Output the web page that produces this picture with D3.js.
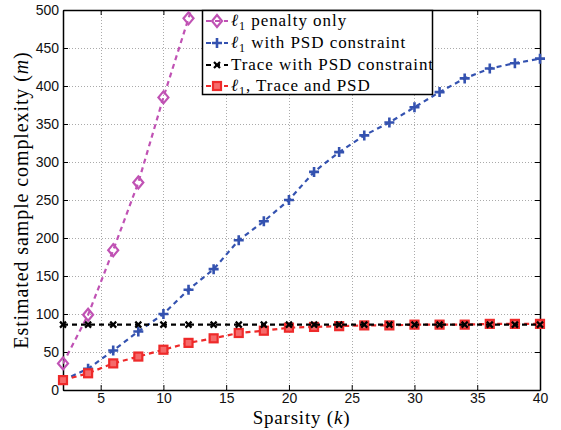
<!DOCTYPE html>
<html>
<head>
<meta charset="utf-8">
<script src="https://cdn.jsdelivr.net/npm/d3@7"></script>
<style>
  body { margin: 0; background: #fff; }
  .tick text { font-family: "Liberation Sans", Arial, sans-serif; font-size: 14px; fill: #111; }
</style>
</head>
<body>
<div id="chart"></div>
<script>
// sparsity k
const kValues = [2, 4, 6, 8, 10, 12, 14, 16, 18, 20, 22, 24, 26, 28, 30, 32, 34, 36, 38, 40]
// estimated m for each method
const l1Only = [35, 99, 184, 273, 385, 489, 600]
const l1Psd = [13, 28, 52, 77, 100, 132, 159, 197, 222, 250, 287, 313, 335, 352, 372, 392, 410, 423, 430, 436]
const tracePsd = [86, 86, 86, 86, 86, 86, 86, 86, 86, 86, 86, 86, 86, 86, 86, 86, 86, 86, 86, 86]
const l1TracePsd = [13, 22, 35, 44, 53, 62, 68, 75, 78, 82, 83, 84, 85, 85, 86, 86, 86, 87, 87, 87]
const xTicks = [5, 10, 15, 20, 25, 30, 35, 40]
const yTicks = [0, 50, 100, 150, 200, 250, 300, 350, 400, 450, 500]

const width = 561, height = 430
const margin = {left: 63, right: 21, top: 10, bottom: 40}

const svg = d3.select('#chart').append('svg')
    .attr('width', width)
    .attr('height', height)

const x = d3.scaleLinear().domain([2, 40]).range([margin.left, width - margin.right])
const y = d3.scaleLinear().domain([0, 500]).range([height - margin.bottom, margin.top])

// grid
const grid = svg.append('g').attr('stroke', '#aaa').attr('stroke-width', 1).attr('stroke-dasharray', '1,2')
grid.selectAll('.gx').data(xTicks.slice(0, -1)).join('line')
    .attr('x1', d => Math.round(x(d)) + 0.5).attr('x2', d => Math.round(x(d)) + 0.5)
    .attr('y1', y(0)).attr('y2', y(500))
grid.selectAll('.gy').data(yTicks.slice(1, -1)).join('line')
    .attr('y1', d => Math.round(y(d)) + 0.5).attr('y2', d => Math.round(y(d)) + 0.5)
    .attr('x1', x(2)).attr('x2', x(40))

// axes, ticks pointing inwards
svg.append('g').attr('transform', `translate(0,${y(0)})`)
    .call(d3.axisBottom(x).tickValues(xTicks).tickSizeInner(-5).tickSizeOuter(0).tickPadding(3))
svg.append('g').attr('transform', `translate(0,${y(500)})`)
    .call(d3.axisTop(x).tickValues(xTicks).tickSizeInner(-5).tickSizeOuter(0).tickFormat(''))
svg.append('g').attr('transform', `translate(${x(2)},0)`)
    .call(d3.axisLeft(y).tickValues(yTicks).tickSizeInner(-5).tickSizeOuter(0).tickPadding(4))
svg.append('g').attr('transform', `translate(${x(40)},0)`)
    .call(d3.axisRight(y).tickValues(yTicks).tickSizeInner(-5).tickSizeOuter(0).tickFormat(''))
svg.selectAll('.domain').attr('stroke', '#000').attr('stroke-width', 1.5)
svg.selectAll('.tick line').attr('stroke', '#000')

svg.append('defs').append('clipPath').attr('id', 'clip')
    .append('rect').attr('x', x(2)).attr('y', y(500)).attr('width', x(40) - x(2)).attr('height', y(0) - y(500))

const series = [
    {name: 'l1', values: l1Only, color: '#c052b4', marker: 'diamond'},
    {name: 'l1psd', values: l1Psd, color: '#3452b0', marker: 'plus'},
    {name: 'trace', values: l1TracePsd, color: '#ee2a2a', marker: 'square'},
    {name: 'tracepsd', values: tracePsd, color: '#000', marker: 'cross'}
]

function drawMarker(g, type, color) {
    if (type === 'diamond') {
        g.append('path').attr('d', 'M0,-6L5,0L0,6L-5,0Z')
            .attr('fill', 'none').attr('stroke', color).attr('stroke-width', 2.2)
    } else if (type === 'plus') {
        g.append('path').attr('d', 'M-5,0H5M0,-5V5')
            .attr('stroke', color).attr('stroke-width', 2.6)
    } else if (type === 'cross') {
        g.append('path').attr('d', 'M-3,-3L3,3M-3,3L3,-3')
            .attr('stroke', color).attr('stroke-width', 2.2)
    } else {
        g.append('rect').attr('x', -4).attr('y', -4).attr('width', 8).attr('height', 8)
            .attr('fill', '#f56a6a').attr('stroke', color).attr('stroke-width', 2.2)
    }
}

const line = d3.line().x(d => x(d[0])).y(d => y(d[1]))

series.forEach(s => {
    const pts = s.values.map((v, i) => [kValues[i], v])
    svg.append('path')
        .datum(pts)
        .attr('clip-path', 'url(#clip)')
        .attr('d', line)
        .attr('fill', 'none')
        .attr('stroke', s.color)
        .attr('stroke-width', 2.2)
        .attr('stroke-dasharray', '5,4')
    svg.append('g').selectAll('g')
        .data(pts.filter(p => p[1] <= 500))
        .join('g')
        .attr('transform', d => `translate(${x(d[0])},${y(d[1])})`)
        .each(function () { drawMarker(d3.select(this), s.marker, s.color) })
})

// axis labels
svg.append('text')
    .attr('x', (x(2) + x(40)) / 2).attr('y', 424)
    .attr('text-anchor', 'middle')
    .style('font-family', '"Liberation Serif", serif').style('font-size', '19px')
    .style('letter-spacing', '0.8px')
    .html('Sparsity (<tspan font-style="italic">k</tspan>)')
svg.append('text')
    .attr('transform', `translate(28,${(y(0) + y(500)) / 2}) rotate(-90)`)
    .attr('text-anchor', 'middle')
    .style('font-family', '"Liberation Serif", serif').style('font-size', '20px')
    .style('letter-spacing', '0.9px')
    .html('Estimated sample complexity (<tspan font-style="italic">m</tspan>)')

// legend
const legendItems = [
    {label: ['ℓ', '1', ' penalty only'], color: '#c052b4', marker: 'diamond'},
    {label: ['ℓ', '1', ' with PSD constraint'], color: '#3452b0', marker: 'plus'},
    {label: ['', '', 'Trace with PSD constraint'], color: '#000', marker: 'cross'},
    {label: ['ℓ', '1', ', Trace and PSD'], color: '#ee2a2a', marker: 'square'}
]
const legend = svg.append('g')
legend.append('rect').attr('x', 202.5).attr('y', 10.5).attr('width', 230).attr('height', 84)
    .attr('fill', '#fff').attr('stroke', '#000').attr('stroke-width', 1.5)
const rowY = [21, 43, 65, 86]
legendItems.forEach((d, i) => {
    const row = legend.append('g').attr('transform', `translate(0,${rowY[i]})`)
    row.append('line').attr('x1', 206).attr('x2', 228).attr('y1', 0).attr('y2', 0)
        .attr('stroke', d.color).attr('stroke-width', 2).attr('stroke-dasharray', '5,4')
    drawMarker(row.append('g').attr('transform', 'translate(217,0)'), d.marker, d.color)
    const t = row.append('text').attr('x', 231).attr('y', 5)
        .style('font-family', '"Liberation Serif", serif').style('font-size', '17px')
        .style('letter-spacing', '0.95px')
    if (d.label[0]) {
        t.append('tspan').attr('font-style', 'italic').text(d.label[0])
        t.append('tspan').attr('dy', 4).style('font-size', '12px').text(d.label[1])
        t.append('tspan').attr('dy', -4).text(d.label[2])
    } else {
        t.text(d.label[2])
    }
})
</script>
</body>
</html>
